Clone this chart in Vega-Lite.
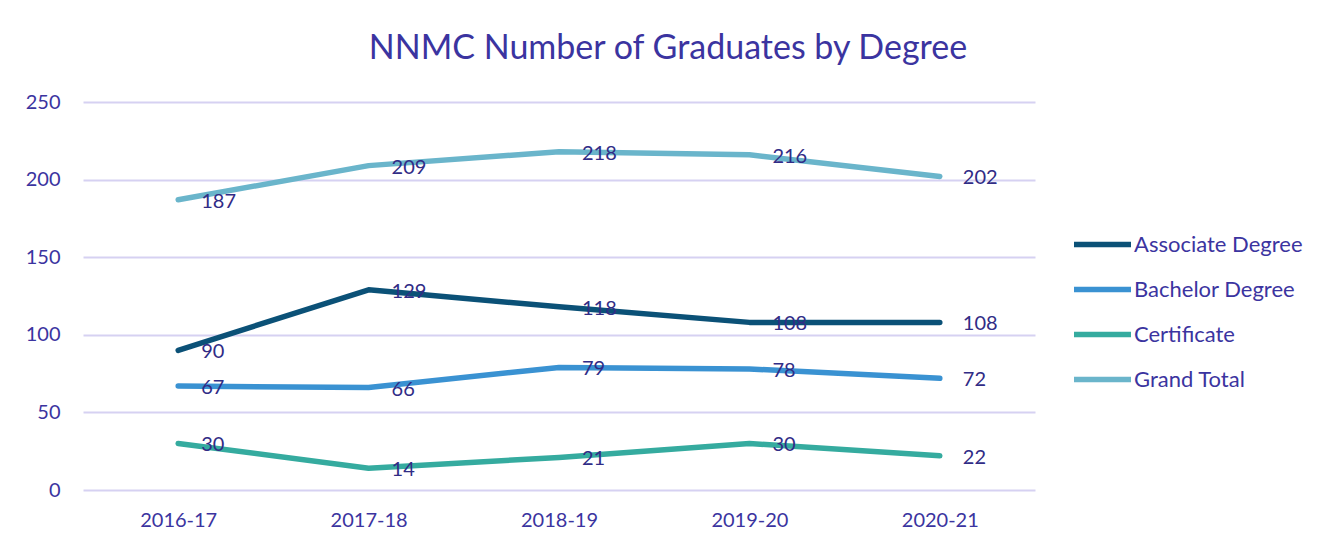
{
  "$schema": "https://vega.github.io/schema/vega-lite/v6.json",
  "width": 952,
  "height": 388,
  "autosize": {"type": "none"},
  "padding": {"left": 83, "top": 102, "right": 294, "bottom": 62},
  "background": "white",
  "title": {
    "text": "NNMC Number of Graduates by Degree",
    "font": "Lato",
    "fontSize": 34,
    "fontWeight": "normal",
    "color": "#3B34A0",
    "anchor": "middle",
    "offset": 26,
    "dx": 109
  },
  "data": {
    "values": [
      {"year": "2016-17", "series": "Associate Degree", "value": 90},
      {"year": "2017-18", "series": "Associate Degree", "value": 129},
      {"year": "2018-19", "series": "Associate Degree", "value": 118},
      {"year": "2019-20", "series": "Associate Degree", "value": 108},
      {"year": "2020-21", "series": "Associate Degree", "value": 108},
      {"year": "2016-17", "series": "Bachelor Degree", "value": 67},
      {"year": "2017-18", "series": "Bachelor Degree", "value": 66},
      {"year": "2018-19", "series": "Bachelor Degree", "value": 79},
      {"year": "2019-20", "series": "Bachelor Degree", "value": 78},
      {"year": "2020-21", "series": "Bachelor Degree", "value": 72},
      {"year": "2016-17", "series": "Certificate", "value": 30},
      {"year": "2017-18", "series": "Certificate", "value": 14},
      {"year": "2018-19", "series": "Certificate", "value": 21},
      {"year": "2019-20", "series": "Certificate", "value": 30},
      {"year": "2020-21", "series": "Certificate", "value": 22},
      {"year": "2016-17", "series": "Grand Total", "value": 187},
      {"year": "2017-18", "series": "Grand Total", "value": 209},
      {"year": "2018-19", "series": "Grand Total", "value": 218},
      {"year": "2019-20", "series": "Grand Total", "value": 216},
      {"year": "2020-21", "series": "Grand Total", "value": 202}
    ]
  },
  "encoding": {
    "x": {
      "field": "year",
      "type": "ordinal",
      "scale": {"type": "point", "padding": 0.5},
      "axis": {
        "title": null,
        "labelAngle": 0,
        "domain": false,
        "ticks": false,
        "grid": false,
        "labelFont": "Lato",
        "labelFontSize": 20,
        "labelColor": "#3B34A0",
        "labelPadding": 20
      }
    },
    "y": {
      "field": "value",
      "type": "quantitative",
      "scale": {"domain": [0, 250]},
      "axis": {
        "title": null,
        "values": [0, 50, 100, 150, 200, 250],
        "domain": false,
        "ticks": false,
        "gridColor": "#D6D1F2",
        "gridWidth": 2,
        "labelFont": "Lato",
        "labelFontSize": 20,
        "labelColor": "#3B34A0",
        "labelPadding": 23
      }
    }
  },
  "layer": [
    {
      "mark": {"type": "line", "strokeWidth": 5.5, "strokeCap": "round", "strokeJoin": "round"},
      "encoding": {
        "color": {
          "field": "series",
          "type": "nominal",
          "scale": {
            "domain": ["Associate Degree", "Bachelor Degree", "Certificate", "Grand Total"],
            "range": ["#0B5177", "#3A92D2", "#35AB9F", "#6AB5CB"]
          },
          "legend": {
            "title": null,
            "orient": "none",
            "legendX": 988,
            "legendY": 111,
            "symbolType": "stroke",
            "symbolStrokeWidth": 5.5,
            "symbolSize": 3249,
            "labelFont": "Lato",
            "labelFontSize": 22,
            "labelColor": "#3B34A0",
            "labelOffset": 0,
            "labelLimit": 300,
            "rowPadding": 2
          }
        }
      }
    },
    {
      "mark": {"type": "text", "align": "left", "baseline": "middle", "dx": 23, "dy": 2, "font": "Lato", "fontSize": 20, "color": "#312C86"},
      "encoding": {
        "text": {"field": "value", "type": "quantitative"}
      }
    }
  ],
  "config": {
    "view": {"stroke": null}
  }
}
